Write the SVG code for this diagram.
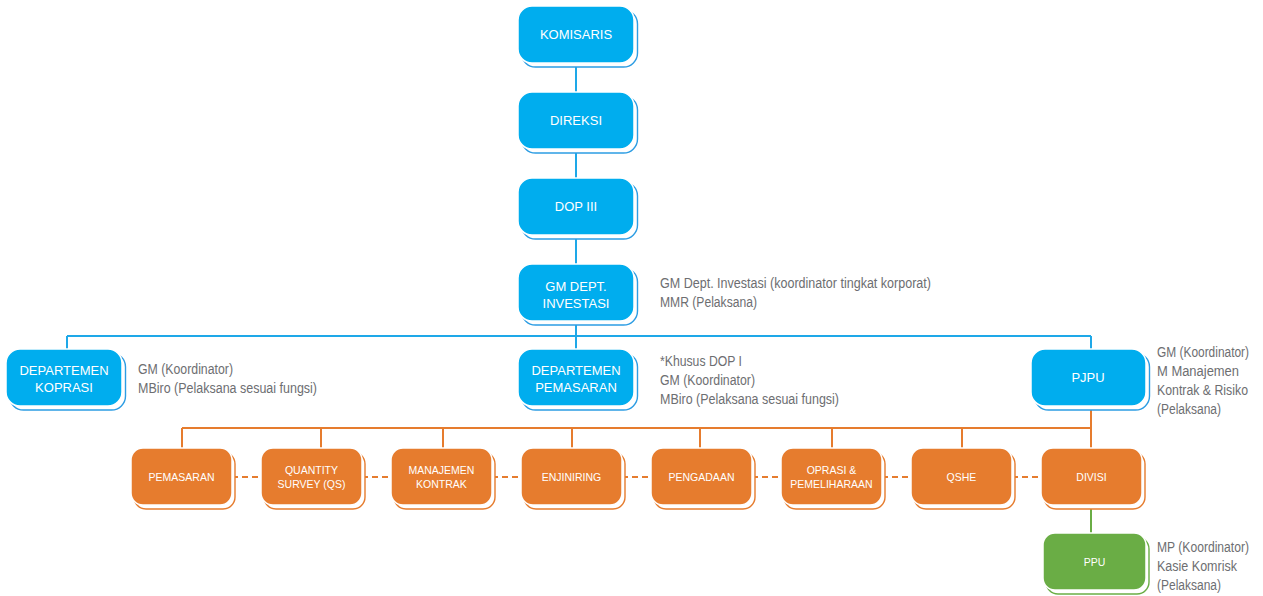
<svg xmlns="http://www.w3.org/2000/svg" width="1263" height="596" viewBox="0 0 1263 596">
<defs>
<style>
.bg{fill:#ffffff}
.sb{fill:#ffffff;stroke:#2d9de3;stroke-width:1.4}
.so{fill:#ffffff;stroke:#e67c2e;stroke-width:1.4}
.sg{fill:#ffffff;stroke:#6aad45;stroke-width:1.4}
.b{fill:#00adee;stroke:#ffffff;stroke-width:1.5}
.o{fill:#e67c2e;stroke:#ffffff;stroke-width:1.5}
.g{fill:#6aad45;stroke:#ffffff;stroke-width:1.5}
.tb{font-family:"Liberation Sans",Arial,sans-serif;font-size:13px;fill:#ffffff;text-anchor:middle}
.to{font-family:"Liberation Sans",Arial,sans-serif;font-size:10.5px;fill:#ffffff;text-anchor:middle}
.tg{font-family:"Liberation Sans",Arial,sans-serif;font-size:14px;fill:#6d6e71}
.lb{stroke:#1ea8e8;stroke-width:2;fill:none}
.lo{stroke:#e67c2e;stroke-width:2;fill:none}
.ld{stroke:#e67c2e;stroke-width:2;fill:none;stroke-dasharray:6 4}
.lg{stroke:#6aad45;stroke-width:2;fill:none}
</style>
</defs>
<rect class="bg" x="0" y="0" width="1263" height="596"/>
<g id="connectors">
<path class="lb" d="M576 62V336M67 336H1091M67 336V349M576 336V349M1091 336V349"/>
<path class="lo" d="M1091 406V448M182 428H1091M182 428V448M321 428V448M443 428V448M572 428V448M700 428V448M832 428V448M962 428V448"/>
<path class="ld" d="M232 477H261M362 477H391M492 477H521M622 477H651M752 477H781M882 477H911M1012 477H1041"/>
<path class="lg" d="M1091 506V533"/>
</g>
<g id="komisaris">
<rect class="sb" x="521.5" y="10" width="116" height="57" rx="14"/>
<rect class="b" x="518" y="6" width="116" height="57" rx="14"/>
<text class="tb" x="576" y="39">KOMISARIS</text>
</g>
<g id="direksi">
<rect class="sb" x="521.5" y="96" width="116" height="57" rx="14"/>
<rect class="b" x="518" y="92" width="116" height="57" rx="14"/>
<text class="tb" x="576" y="125">DIREKSI</text>
</g>
<g id="dop3">
<rect class="sb" x="521.5" y="182" width="116" height="57" rx="14"/>
<rect class="b" x="518" y="178" width="116" height="57" rx="14"/>
<text class="tb" x="576" y="211">DOP III</text>
</g>
<g id="gm-dept-investasi">
<rect class="sb" x="521.5" y="268" width="116" height="57" rx="14"/>
<rect class="b" x="518" y="264" width="116" height="57" rx="14"/>
<text class="tb" x="576" y="291">GM DEPT.</text>
<text class="tb" x="576" y="308">INVESTASI</text>
<text class="tg" x="660" y="288" textLength="271" lengthAdjust="spacingAndGlyphs">GM Dept. Investasi (koordinator tingkat korporat)</text>
<text class="tg" x="660" y="307" textLength="97" lengthAdjust="spacingAndGlyphs">MMR (Pelaksana)</text>
</g>
<g id="dept-kopRASI">
<rect class="sb" x="9.5" y="353" width="116" height="57" rx="14"/>
<rect class="b" x="6" y="349" width="116" height="57" rx="14"/>
<text class="tb" x="64" y="375">DEPARTEMEN</text>
<text class="tb" x="64" y="392">KOPRASI</text>
<text class="tg" x="138" y="374" textLength="95" lengthAdjust="spacingAndGlyphs">GM (Koordinator)</text>
<text class="tg" x="138" y="393" textLength="179" lengthAdjust="spacingAndGlyphs">MBiro (Pelaksana sesuai fungsi)</text>
</g>
<g id="dept-pemasaran">
<rect class="sb" x="521.5" y="353" width="116" height="57" rx="14"/>
<rect class="b" x="518" y="349" width="116" height="57" rx="14"/>
<text class="tb" x="576" y="375">DEPARTEMEN</text>
<text class="tb" x="576" y="392">PEMASARAN</text>
<text class="tg" x="660" y="366" textLength="82" lengthAdjust="spacingAndGlyphs">*Khusus DOP I</text>
<text class="tg" x="660" y="385" textLength="95" lengthAdjust="spacingAndGlyphs">GM (Koordinator)</text>
<text class="tg" x="660" y="404" textLength="179" lengthAdjust="spacingAndGlyphs">MBiro (Pelaksana sesuai fungsi)</text>
</g>
<g id="pjpu">
<rect class="sb" x="1034.5" y="353" width="115" height="57" rx="14"/>
<rect class="b" x="1031" y="349" width="115" height="57" rx="14"/>
<text class="tb" x="1088" y="382">PJPU</text>
<text class="tg" x="1157" y="357" textLength="92" lengthAdjust="spacingAndGlyphs">GM (Koordinator)</text>
<text class="tg" x="1157" y="376" textLength="82" lengthAdjust="spacingAndGlyphs">M Manajemen</text>
<text class="tg" x="1157" y="395" textLength="91" lengthAdjust="spacingAndGlyphs">Kontrak &amp; Risiko</text>
<text class="tg" x="1157" y="414" textLength="64" lengthAdjust="spacingAndGlyphs">(Pelaksana)</text>
</g>
<g id="pemasaran">
<rect class="so" x="134" y="452" width="101" height="57" rx="12"/>
<rect class="o" x="131" y="448" width="101" height="57" rx="12"/>
<text class="to" x="181.5" y="481">PEMASARAN</text>
</g>
<g id="quantity-survey">
<rect class="so" x="264" y="452" width="101" height="57" rx="12"/>
<rect class="o" x="261" y="448" width="101" height="57" rx="12"/>
<text class="to" x="311.5" y="474">QUANTITY</text>
<text class="to" x="311.5" y="488">SURVEY (QS)</text>
</g>
<g id="manajemen-kontrak">
<rect class="so" x="394" y="452" width="101" height="57" rx="12"/>
<rect class="o" x="391" y="448" width="101" height="57" rx="12"/>
<text class="to" x="441.5" y="474">MANAJEMEN</text>
<text class="to" x="441.5" y="488">KONTRAK</text>
</g>
<g id="enjiniring">
<rect class="so" x="524" y="452" width="101" height="57" rx="12"/>
<rect class="o" x="521" y="448" width="101" height="57" rx="12"/>
<text class="to" x="571.5" y="481">ENJINIRING</text>
</g>
<g id="pengadaan">
<rect class="so" x="654" y="452" width="101" height="57" rx="12"/>
<rect class="o" x="651" y="448" width="101" height="57" rx="12"/>
<text class="to" x="701.5" y="481">PENGADAAN</text>
</g>
<g id="oprasi-pemeliharaan">
<rect class="so" x="784" y="452" width="101" height="57" rx="12"/>
<rect class="o" x="781" y="448" width="101" height="57" rx="12"/>
<text class="to" x="831.5" y="474">OPRASI &amp;</text>
<text class="to" x="831.5" y="488">PEMELIHARAAN</text>
</g>
<g id="qshe">
<rect class="so" x="914" y="452" width="101" height="57" rx="12"/>
<rect class="o" x="911" y="448" width="101" height="57" rx="12"/>
<text class="to" x="961.5" y="481">QSHE</text>
</g>
<g id="divisi">
<rect class="so" x="1044" y="452" width="101" height="57" rx="12"/>
<rect class="o" x="1041" y="448" width="101" height="57" rx="12"/>
<text class="to" x="1091.5" y="481">DIVISI</text>
</g>
<g id="ppu">
<rect class="sg" x="1046" y="537" width="103" height="57" rx="12"/>
<rect class="g" x="1043" y="533" width="103" height="57" rx="12"/>
<text class="to" x="1094.5" y="566">PPU</text>
<text class="tg" x="1157" y="552" textLength="92" lengthAdjust="spacingAndGlyphs">MP (Koordinator)</text>
<text class="tg" x="1157" y="571" textLength="80" lengthAdjust="spacingAndGlyphs">Kasie Komrisk</text>
<text class="tg" x="1157" y="590" textLength="64" lengthAdjust="spacingAndGlyphs">(Pelaksana)</text>
</g>
</svg>
